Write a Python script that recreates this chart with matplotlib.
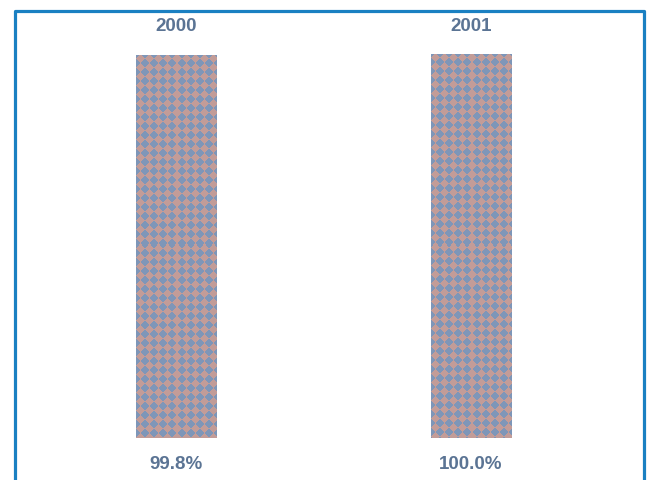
import numpy as np
import matplotlib.pyplot as plt
from matplotlib.lines import Line2D

years = ["2000", "2001"]
values = [99.8, 100.0]
value_labels = ["99.8%", "100.0%"]

txt_color = "#5b7494"
blue = np.array([0x7e, 0x96, 0xb8]) / 255
pink = np.array([0xc2, 0x9c, 0x98]) / 255

fig = plt.figure(figsize=(6.48, 4.8), dpi=100)
W, H = 648, 480
ax = fig.add_axes([14 / W, 42 / H, 630 / W, 384 / H])
ax.set_xlim(-0.552, 1.589)
ax.set_ylim(0, 100)
ax.axis("off")


def diamond_tex(nrows, ncols, period=9):
    # pink diamonds on blue, sized to the bar in pixels
    yy, xx = np.mgrid[0:nrows, 0:ncols]
    dx = np.abs((xx % period) - 4)
    dy = np.abs((yy % period) - 4)
    mask = (dx + dy) < 4.1
    return np.where(mask[..., None], pink, blue)


bars = ax.bar(range(len(years)), values, width=0.272, color=blue, linewidth=0)
fig.canvas.draw()
for b in bars:
    x0, w, h = b.get_x(), b.get_width(), b.get_height()
    p0 = ax.transData.transform((x0, 0))
    p1 = ax.transData.transform((x0 + w, h))
    ncols = int(round(p1[0] - p0[0]))
    nrows = int(round(p1[1] - p0[1]))
    tex = diamond_tex(nrows, ncols)[::-1]
    im = ax.imshow(tex, extent=(x0, x0 + w, 0, h), aspect="auto",
                   interpolation="nearest", zorder=2, origin="lower")
    im.set_clip_path(b)

for i, (yr, lab) in enumerate(zip(years, value_labels)):
    ax.text(i, 1.072, yr, transform=ax.get_xaxis_transform(), ha="center",
            va="center", fontsize=13.5, fontweight="bold", color=txt_color,
            family="Liberation Sans")
    ax.text(i, -0.07, lab, transform=ax.get_xaxis_transform(), ha="center",
            va="center", fontsize=13.5, fontweight="bold", color=txt_color,
            family="Liberation Sans")

# outer frame (open at the bottom)
fc = "#1a80c2"
fig.add_artist(Line2D([14.5 / W, 14.5 / W, 643.5 / W, 643.5 / W],
                      [0, 1 - 10.5 / H, 1 - 10.5 / H, 0],
                      color=fc, linewidth=2.3, transform=fig.transFigure))

fig.savefig("out.png", dpi=100)
